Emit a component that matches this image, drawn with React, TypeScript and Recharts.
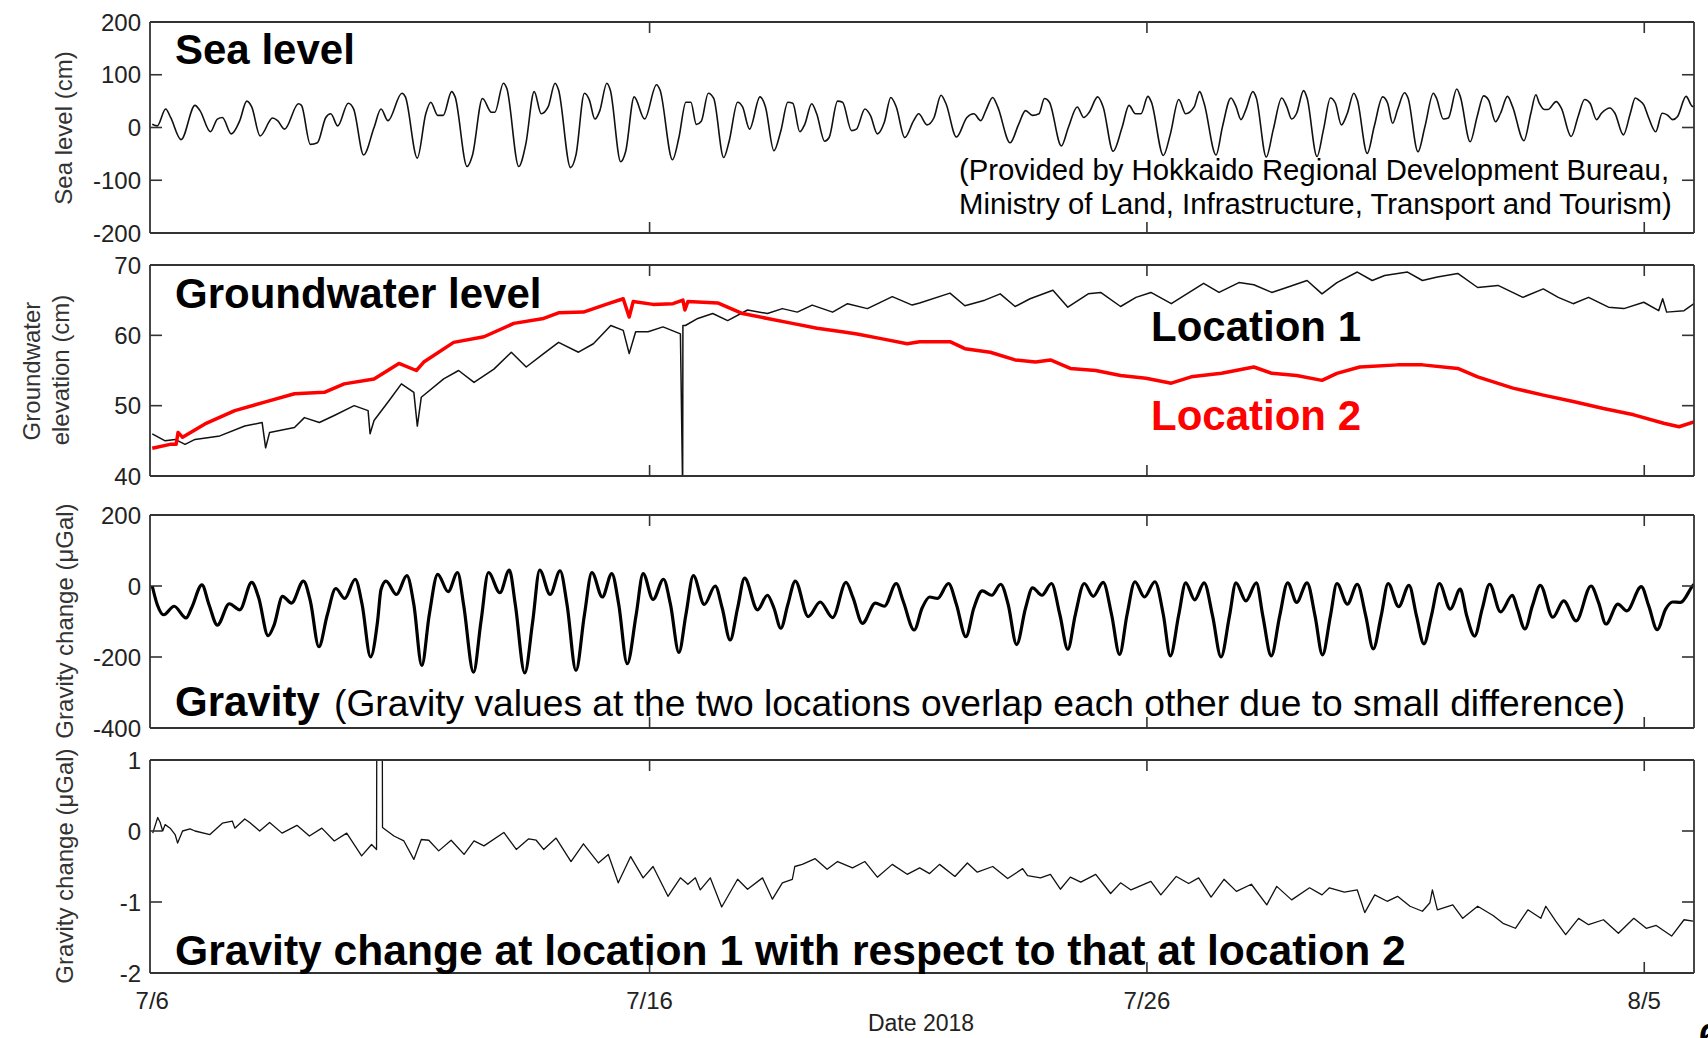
import React from "react";
import { LineChart, Line, XAxis, YAxis } from "recharts";

type Pt = [number, number];

// x axis: days since 7/6 (2018)
const dayTicks = [0, 10, 20, 30];
const dayLabels = ["7/6", "7/16", "7/26", "8/5"];

// Sea level (cm)
const seaLevel: Pt[] = [
  [0, 6], [0.1, 3], [0.27, 35], [0.37, 19], [0.58, -23], [0.86, 42], [0.96, 32], [1.17, -8], [1.31, 16], [1.41, 19],
  [1.59, -12], [1.76, 13], [1.9, 50], [2.0, 39], [2.17, -16], [2.42, 18], [2.52, 13], [2.66, -3], [2.94, 45], [3.0, 42],
  [3.18, -32], [3.32, -29], [3.49, 19], [3.59, 26], [3.73, 3], [3.94, 46], [4.05, 35], [4.25, -52], [4.46, 0], [4.6, 35],
  [4.74, 13], [5.02, 65], [5.09, 58], [5.33, -58], [5.5, 26], [5.6, 48], [5.74, 23], [5.85, 23], [6.02, 68], [6.09, 58],
  [6.33, -74], [6.44, -52], [6.64, 55], [6.82, 29], [6.89, 29], [7.06, 84], [7.13, 74], [7.37, -74], [7.51, -32], [7.68, 68],
  [7.82, 26], [7.96, 39], [8.1, 84], [8.17, 71], [8.41, -76], [8.52, -52], [8.69, 65], [8.79, 52], [8.9, 16], [9.0, 32],
  [9.14, 84], [9.21, 71], [9.42, -65], [9.52, -45], [9.69, 58], [9.9, 16], [10.14, 81], [10.21, 71], [10.46, -61], [10.59, -19],
  [10.73, 48], [10.83, 48], [10.94, 6], [11.04, 12], [11.18, 65], [11.29, 55], [11.49, -57], [11.6, -26], [11.77, 48], [11.87, 39],
  [12.01, -3], [12.22, 58], [12.33, 39], [12.5, -44], [12.64, -6], [12.78, 48], [12.88, 46], [13.02, -8], [13.12, 6], [13.26, 45],
  [13.36, 26], [13.52, -26], [13.61, -19], [13.78, 50], [13.88, 48], [14.06, -6], [14.16, -3], [14.33, 35], [14.44, 23], [14.58, -12],
  [14.72, 10], [14.85, 57], [14.96, 39], [15.13, -19], [15.31, 13], [15.41, 26], [15.58, 5], [15.72, 19], [15.86, 61], [15.96, 45],
  [16.17, -18], [16.38, 19], [16.52, 26], [16.66, 13], [16.76, 32], [16.9, 57], [17.0, 39], [17.25, -29], [17.42, 6], [17.56, 32],
  [17.7, 23], [17.83, 26], [17.94, 55], [18.04, 48], [18.28, -35], [18.42, 0], [18.6, 39], [18.73, 19], [18.84, 29], [19.01, 58],
  [19.12, 39], [19.32, -45], [19.5, 0], [19.64, 42], [19.77, 26], [19.88, 26], [20.02, 59], [20.09, 48], [20.33, -53], [20.47, -13],
  [20.64, 53], [20.78, 26], [20.95, 39], [21.06, 68], [21.15, 46], [21.39, -52], [21.52, 2], [21.69, 56], [21.79, 40], [21.89, 15],
  [21.99, 34], [22.13, 68], [22.2, 56], [22.4, -56], [22.54, -4], [22.71, 56], [22.81, 40], [22.91, 16], [23.01, 27], [23.15, 70],
  [23.22, 56], [23.42, -55], [23.55, -4], [23.69, 56], [23.79, 46], [23.91, 5], [24.03, 27], [24.16, 65], [24.23, 52], [24.43, -49],
  [24.57, 2], [24.74, 58], [24.84, 46], [24.94, 8], [25.04, 34], [25.18, 66], [25.25, 56], [25.45, -46], [25.59, 2], [25.76, 65],
  [25.82, 56], [25.96, 16], [26.06, 18], [26.23, 73], [26.3, 59], [26.5, -27], [26.64, 21], [26.77, 60], [26.87, 52], [27.01, 11],
  [27.11, 27], [27.25, 59], [27.35, 40], [27.58, -25], [27.72, 27], [27.82, 62], [27.89, 46], [27.99, 34], [28.06, 34], [28.23, 49],
  [28.33, 37], [28.53, -17], [28.67, 21], [28.8, 53], [28.91, 46], [29.04, 15], [29.14, 27], [29.31, 37], [29.41, 27], [29.58, -14],
  [29.72, 27], [29.82, 56], [29.89, 52], [29.99, 43], [30.09, 18], [30.23, -8], [30.36, 27], [30.46, 24], [30.57, 15], [30.67, 21],
  [30.84, 59], [30.97, 40], [31.0, 40],
];

// Groundwater elevation (cm), location 1 (black)
const groundwater1: Pt[] = [
  [0, 46.0], [0.26, 45.0], [0.46, 45.2], [0.66, 44.5], [0.86, 45.2], [1.36, 45.7], [1.86, 47.1], [2.21, 47.6], [2.28, 44.0], [2.36, 46.2],
  [2.86, 46.9], [3.06, 48.3], [3.36, 47.6], [3.66, 48.6], [4.06, 50.0], [4.34, 49.3], [4.38, 46.0], [4.46, 47.9], [4.76, 50.7], [5.01, 53.1],
  [5.26, 51.9], [5.33, 47.1], [5.41, 51.2], [5.86, 53.8], [6.16, 55.0], [6.47, 53.3], [6.87, 55.2], [7.22, 57.6], [7.52, 55.5], [7.87, 57.4],
  [8.17, 59.0], [8.57, 57.6], [8.87, 58.8], [9.22, 61.4], [9.47, 60.7], [9.59, 57.4], [9.72, 60.5], [9.97, 60.5], [10.27, 61.2], [10.62, 60.2],
  [10.665, 38], [10.67, 61.4], [10.72, 61.4], [10.97, 62.4], [11.27, 63.1], [11.57, 62.1], [11.97, 63.6], [12.37, 63.1], [12.67, 63.8], [12.97, 63.3],
  [13.27, 64.3], [13.68, 63.3], [13.98, 64.5], [14.38, 63.8], [14.88, 65.5], [15.28, 64.3], [15.43, 64.6], [16.04, 66.0], [16.34, 64.2], [16.74, 65.0],
  [17.05, 65.9], [17.35, 64.1], [17.65, 65.2], [18.11, 66.4], [18.41, 64.0], [18.82, 65.9], [19.07, 66.1], [19.47, 64.1], [19.78, 65.4], [20.08, 66.1],
  [20.49, 64.5], [20.69, 65.4], [21.14, 67.4], [21.45, 66.1], [21.85, 67.5], [22.15, 67.2], [22.51, 66.1], [22.81, 66.8], [23.22, 67.8], [23.52, 65.9],
  [23.82, 67.5], [24.23, 69.0], [24.53, 67.8], [24.78, 68.5], [25.24, 69.0], [25.54, 67.8], [25.84, 68.3], [26.25, 68.8], [26.65, 66.8], [27.06, 67.1],
  [27.56, 65.4], [27.97, 66.6], [28.27, 65.4], [28.57, 64.5], [28.88, 65.4], [29.28, 64.0], [29.59, 63.8], [29.99, 64.7], [30.29, 63.5], [30.37, 65.2],
  [30.45, 63.3], [30.8, 63.5], [31.0, 64.5],
];

// Groundwater elevation (cm), location 2 (red)
const groundwater2: Pt[] = [
  [0, 43.95], [0.36, 44.5], [0.48, 44.5], [0.52, 46.2], [0.61, 45.5], [1.06, 47.4], [1.66, 49.3], [2.26, 50.5], [2.86, 51.7], [3.46, 51.9],
  [3.86, 53.1], [4.46, 53.8], [4.96, 56.0], [5.31, 55.0], [5.46, 56.2], [6.06, 59.0], [6.67, 59.8], [7.27, 61.7], [7.87, 62.4], [8.17, 63.2],
  [8.67, 63.3], [9.17, 64.5], [9.47, 65.2], [9.59, 62.6], [9.67, 64.8], [10.07, 64.4], [10.47, 64.5], [10.67, 65.0], [10.71, 63.6], [10.77, 64.8],
  [11.37, 64.6], [11.87, 63.1], [12.37, 62.4], [12.87, 61.7], [13.37, 61.0], [13.87, 60.5], [14.17, 60.2], [14.68, 59.5], [15.18, 58.8], [15.43, 59.1],
  [16.04, 59.1], [16.34, 58.1], [16.85, 57.6], [17.35, 56.5], [17.76, 56.2], [18.06, 56.5], [18.46, 55.3], [18.97, 55.0], [19.47, 54.3], [19.98, 53.9],
  [20.49, 53.2], [20.89, 54.1], [21.5, 54.6], [22.15, 55.5], [22.51, 54.6], [23.01, 54.3], [23.52, 53.6], [23.82, 54.6], [24.28, 55.5], [25.04, 55.8],
  [25.54, 55.8], [26.25, 55.3], [26.65, 54.1], [27.36, 52.5], [27.97, 51.5], [28.57, 50.6], [29.18, 49.6], [29.79, 48.7], [30.39, 47.5], [30.7, 47.0],
  [31.0, 47.7],
];

// Gravity change (uGal)
const gravity: Pt[] = [
  [0, 0], [0.1, -52], [0.23, -81], [0.44, -57], [0.68, -90], [0.79, -62], [1.0, 3], [1.14, -52], [1.31, -110], [1.55, -50],
  [1.76, -67], [2.0, 10], [2.14, -33], [2.33, -140], [2.45, -110], [2.62, -29], [2.8, -48], [3.04, 14], [3.18, -43], [3.35, -171],
  [3.52, -81], [3.69, -7], [3.87, -35], [4.08, 19], [4.22, -52], [4.39, -200], [4.53, -100], [4.6, -10], [4.7, 14], [4.91, -24],
  [5.12, 29], [5.26, -52], [5.42, -224], [5.57, -81], [5.74, 33], [5.95, -16], [6.14, 38], [6.26, -52], [6.46, -243], [6.61, -100],
  [6.76, 38], [6.99, -19], [7.18, 45], [7.3, -52], [7.49, -245], [7.65, -100], [7.79, 45], [8.0, -24], [8.2, 43], [8.34, -52],
  [8.52, -238], [8.69, -81], [8.84, 38], [9.05, -31], [9.24, 35], [9.38, -52], [9.55, -219], [9.73, -81], [9.87, 35], [10.07, -38],
  [10.28, 19], [10.42, -52], [10.59, -187], [10.73, -81], [10.88, 29], [11.1, -52], [11.32, 0], [11.46, -62], [11.62, -152], [11.77, -62],
  [11.91, 22], [12.17, -67], [12.37, -26], [12.5, -62], [12.64, -119], [12.78, -52], [12.93, 14], [13.19, -86], [13.43, -45], [13.68, -89],
  [13.95, 10], [14.09, -33], [14.28, -105], [14.54, -48], [14.72, -57], [14.96, 7], [15.1, -43], [15.32, -124], [15.48, -62], [15.63, -31],
  [15.79, -35], [16.01, 7], [16.17, -52], [16.36, -143], [16.52, -62], [16.69, -14], [16.88, -26], [17.06, 5], [17.21, -52], [17.38, -165],
  [17.56, -62], [17.7, -5], [17.89, -26], [18.08, 7], [18.25, -81], [18.41, -178], [18.56, -81], [18.74, 7], [18.92, -29], [19.12, 10],
  [19.29, -81], [19.45, -193], [19.6, -81], [19.76, 12], [19.95, -31], [20.16, 12], [20.33, -81], [20.47, -197], [20.64, -81], [20.78, 9],
  [20.96, -39], [21.15, 9], [21.32, -84], [21.49, -200], [21.66, -84], [21.79, 9], [21.99, -42], [22.2, 9], [22.33, -84], [22.5, -197],
  [22.67, -84], [22.83, 9], [23.01, -46], [23.22, 9], [23.38, -84], [23.53, -194], [23.69, -84], [23.82, 7], [24.03, -51], [24.23, 5],
  [24.4, -84], [24.55, -177], [24.71, -84], [24.85, 7], [25.06, -58], [25.27, 2], [25.42, -84], [25.57, -163], [25.72, -84], [25.88, 7],
  [26.1, -65], [26.3, -9], [26.43, -84], [26.59, -141], [26.74, -65], [26.89, 5], [27.11, -73], [27.35, -26], [27.45, -65], [27.6, -121],
  [27.75, -56], [27.91, 2], [28.16, -88], [28.38, -42], [28.63, -98], [28.93, 0], [29.08, -46], [29.23, -107], [29.47, -51], [29.65, -70],
  [29.94, -2], [30.09, -56], [30.26, -123], [30.43, -65], [30.57, -45], [30.73, -46], [30.97, 0], [31.0, 5],
];

// Gravity change at location 1 relative to location 2 (uGal)
const gravityDiff: Pt[] = [
  [0.01, -0.03], [0.11, 0.19], [0.16, 0.12], [0.21, 0.0], [0.26, 0.09], [0.36, 0.04], [0.46, -0.05], [0.51, -0.17], [0.61, 0.0], [0.76, 0.03],
  [0.86, 0.0], [1.16, -0.05], [1.41, 0.11], [1.61, 0.14], [1.66, 0.04], [1.86, 0.17], [1.96, 0.12], [2.16, 0.0], [2.36, 0.12], [2.61, -0.03],
  [2.91, 0.08], [3.16, -0.07], [3.41, 0.04], [3.66, -0.14], [3.91, -0.03], [4.21, -0.35], [4.41, -0.19], [4.51, -0.26], [4.52, 3], [4.62, 3],
  [4.63, 0.05], [4.86, -0.07], [5.06, -0.14], [5.26, -0.4], [5.41, -0.12], [5.56, -0.13], [5.76, -0.28], [6.01, -0.13], [6.27, -0.33], [6.47, -0.14],
  [6.67, -0.21], [7.07, -0.02], [7.32, -0.26], [7.57, -0.11], [7.72, -0.13], [7.87, -0.26], [8.12, -0.1], [8.42, -0.43], [8.67, -0.18], [8.97, -0.45],
  [9.17, -0.33], [9.37, -0.73], [9.62, -0.36], [9.87, -0.66], [10.07, -0.5], [10.37, -0.92], [10.62, -0.66], [10.77, -0.75], [10.92, -0.66], [11.02, -0.83],
  [11.22, -0.66], [11.45, -1.07], [11.77, -0.68], [11.97, -0.82], [12.27, -0.66], [12.47, -0.96], [12.67, -0.73], [12.87, -0.68], [12.92, -0.5], [13.07, -0.47],
  [13.33, -0.39], [13.57, -0.54], [13.78, -0.43], [14.08, -0.52], [14.33, -0.43], [14.58, -0.65], [14.88, -0.47], [15.18, -0.61], [15.43, -0.52], [15.63, -0.6],
  [15.83, -0.47], [16.14, -0.64], [16.39, -0.45], [16.59, -0.58], [16.9, -0.5], [17.2, -0.67], [17.5, -0.53], [17.6, -0.63], [17.86, -0.66], [18.06, -0.61],
  [18.26, -0.82], [18.46, -0.65], [18.67, -0.72], [18.97, -0.61], [19.27, -0.88], [19.47, -0.73], [19.68, -0.83], [20.08, -0.71], [20.28, -0.9], [20.59, -0.64],
  [20.84, -0.74], [21.04, -0.66], [21.29, -0.93], [21.55, -0.68], [21.8, -0.85], [22.1, -0.75], [22.41, -1.04], [22.61, -0.78], [22.91, -0.97], [23.27, -0.8],
  [23.52, -0.9], [23.67, -0.8], [23.97, -0.86], [24.23, -0.83], [24.38, -1.15], [24.58, -0.9], [24.83, -0.99], [25.04, -0.92], [25.29, -1.06], [25.54, -1.13],
  [25.69, -1.01], [25.74, -0.83], [25.84, -1.11], [26.15, -1.04], [26.35, -1.23], [26.65, -1.06], [26.96, -1.19], [27.16, -1.3], [27.41, -1.37], [27.66, -1.11],
  [27.92, -1.23], [28.02, -1.06], [28.22, -1.27], [28.42, -1.46], [28.68, -1.23], [28.88, -1.32], [29.18, -1.25], [29.48, -1.44], [29.79, -1.23], [30.04, -1.37],
  [30.24, -1.33], [30.55, -1.48], [30.8, -1.25], [30.98, -1.27],
];

const seaTicks = [-200, -100, 0, 100, 200];
const groundTicks = [40, 50, 60, 70];
const gravityTicks = [-400, -200, 0, 200];
const diffTicks = [-2, -1, 0, 1];

const W = 1708;
const H = 1038;
const PLOT_LEFT = 150;
const PLOT_RIGHT = 1694;
const PAD = 14;
const DAY_DOMAIN: [number, number] = [-0.045, 31.0];
const FRAME = "#333";
const FONT = "'Liberation Sans', Arial, Helvetica, sans-serif";

interface Series {
  data: Pt[];
  color: string;
  width: number;
  curve: "monotone" | "linear";
}

interface PanelProps {
  top: number;
  bottom: number;
  domain: [number, number];
  ticks: number[];
  series: Series[];
  dates?: boolean;
}

const Panel = ({ top, bottom, domain, ticks, series, dates }: PanelProps) => {
  const extra = dates ? 60 : 0;
  const height = bottom - top + PAD * 2 + extra;
  const inside = (v: number) => v > domain[0] && v < domain[1];

  const leftTick = (p: any) => (
    <g>
      {inside(p.payload.value) && (
        <line x1={p.x} x2={p.x + 12} y1={p.y} y2={p.y} stroke={FRAME} strokeWidth={1.6} />
      )}
      <text x={p.x - 9} y={p.y} textAnchor="end" dominantBaseline="central" fontSize={24} fill="#222" fontFamily={FONT}>
        {p.payload.value}
      </text>
    </g>
  );
  const rightTick = (p: any) =>
    inside(p.payload.value) ? (
      <line x1={p.x} x2={p.x - 12} y1={p.y} y2={p.y} stroke={FRAME} strokeWidth={1.6} />
    ) : (
      <g />
    );
  const topTick = (p: any) =>
    p.payload.value > 0 ? <line x1={p.x} x2={p.x} y1={p.y} y2={p.y + 11} stroke={FRAME} strokeWidth={1.6} /> : <g />;
  const bottomTick = (p: any) => (
    <g>
      {p.payload.value > 0 && <line x1={p.x} x2={p.x} y1={p.y} y2={p.y - 11} stroke={FRAME} strokeWidth={1.6} />}
      {dates && (
        <text x={p.x} y={p.y + 27} textAnchor="middle" dominantBaseline="central" fontSize={24} fill="#222" fontFamily={FONT}>
          {dayLabels[dayTicks.indexOf(p.payload.value)]}
        </text>
      )}
    </g>
  );

  const axisLine = { stroke: FRAME, strokeWidth: 1.8 };

  return (
    <div style={{ position: "absolute", left: 0, top: top - PAD }}>
      <LineChart
        width={W}
        height={height}
        margin={{ top: PAD - 1, right: W - PLOT_RIGHT - 1, bottom: PAD - 1 + extra, left: PLOT_LEFT - 60 }}
      >
        <XAxis xAxisId="b" dataKey="t" type="number" orientation="bottom" domain={DAY_DOMAIN} ticks={dayTicks}
          allowDataOverflow interval={0} height={1} tickSize={0} tickMargin={0} tickLine={false} axisLine={axisLine} tick={bottomTick} />
        <XAxis xAxisId="t" dataKey="t" type="number" orientation="top" domain={DAY_DOMAIN} ticks={dayTicks}
          allowDataOverflow interval={0} height={1} tickSize={0} tickMargin={0} tickLine={false} axisLine={axisLine} tick={topTick} />
        <YAxis yAxisId="l" type="number" orientation="left" domain={domain} ticks={ticks} allowDataOverflow interval={0}
          width={60} tickSize={0} tickMargin={0} tickLine={false} axisLine={axisLine} tick={leftTick} />
        <YAxis yAxisId="r" type="number" orientation="right" domain={domain} ticks={ticks} allowDataOverflow interval={0}
          width={1} tickSize={0} tickMargin={0} tickLine={false} axisLine={axisLine} tick={rightTick} />
        {series.map((s, i) => (
          <Line
            key={i}
            xAxisId="b"
            yAxisId="l"
            data={s.data.map(([t, v]) => ({ t, v }))}
            dataKey="v"
            type={s.curve}
            stroke={s.color}
            strokeWidth={s.width}
            strokeLinejoin="round"
            dot={false}
            activeDot={false}
            isAnimationActive={false}
          />
        ))}
      </LineChart>
    </div>
  );
};

const App = () => {
  const axisTitle = { fontSize: 24, fill: "#333", fontFamily: FONT, textAnchor: "middle" as const, dominantBaseline: "central" as const };
  const title = { fontSize: 42, fontWeight: 700, fill: "#000", fontFamily: FONT };

  return (
    <div style={{ position: "absolute", left: 0, top: 0, width: W, height: H, background: "#fff", overflow: "hidden" }}>
      <Panel top={22} bottom={233} domain={[-200, 200]} ticks={seaTicks}
        series={[{ data: seaLevel, color: "#111", width: 1.6, curve: "monotone" }]} />
      <Panel top={265} bottom={476} domain={[40, 70]} ticks={groundTicks}
        series={[
          { data: groundwater1, color: "#111", width: 1.5, curve: "linear" },
          { data: groundwater2, color: "#ff0000", width: 3.5, curve: "linear" },
        ]} />
      <Panel top={515} bottom={728} domain={[-400, 200]} ticks={gravityTicks}
        series={[{ data: gravity, color: "#000", width: 3.2, curve: "monotone" }]} />
      <Panel top={760} bottom={973} domain={[-2, 1]} ticks={diffTicks} dates
        series={[{ data: gravityDiff, color: "#111", width: 1.3, curve: "linear" }]} />

      <svg width={W} height={H} style={{ position: "absolute", left: 0, top: 0, pointerEvents: "none" }}>
        <text {...axisTitle} transform="translate(63,128) rotate(-90)">Sea level (cm)</text>
        <text {...axisTitle} transform="translate(31,371) rotate(-90)">Groundwater</text>
        <text {...axisTitle} transform="translate(60,370) rotate(-90)">elevation (cm)</text>
        <text {...axisTitle} transform="translate(64,621) rotate(-90)">Gravity change (μGal)</text>
        <text {...axisTitle} transform="translate(64,866) rotate(-90)">Gravity change (μGal)</text>

        <text {...title} x={175} y={64}>Sea level</text>
        <text x={959} y={180} fontSize={29.3} fill="#000" fontFamily={FONT}>(Provided by Hokkaido Regional Development Bureau,</text>
        <text x={959} y={214} fontSize={29.3} fill="#000" fontFamily={FONT}>Ministry of Land, Infrastructure, Transport and Tourism)</text>

        <text {...title} x={175} y={308}>Groundwater level</text>
        <text {...title} x={1151} y={341}>Location 1</text>
        <text {...title} x={1151} y={430} fill="#ff0000">Location 2</text>

        <text {...title} x={175} y={716}>Gravity</text>
        <text x={334} y={716} fontSize={37.2} fill="#000" fontFamily={FONT}>
          (Gravity values at the two locations overlap each other due to small difference)
        </text>

        <text {...title} fontSize={42.6} x={175} y={965}>Gravity change at location 1 with respect to that at location 2</text>

        <text x={921} y={1023} fontSize={23} fill="#222" fontFamily={FONT} textAnchor="middle" dominantBaseline="central">Date 2018</text>
        <text x={1699} y={1050} fontSize={36} fontWeight={700} fill="#000" fontFamily={FONT}>6</text>
      </svg>
    </div>
  );
};

export default App;
